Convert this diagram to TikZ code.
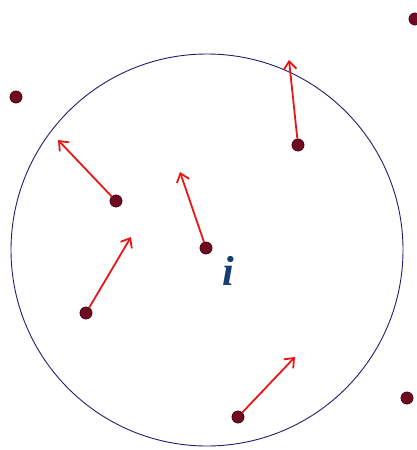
\documentclass[tikz,border=0pt]{standalone}
\usepackage{fontspec}
\usepackage{tikz}
\usetikzlibrary{arrows.meta}
\newfontfamily\labelfont{Liberation Serif}
\definecolor{dotred}{RGB}{112, 10, 32}
\definecolor{dotrim}{RGB}{70, 0, 20}
\definecolor{velred}{RGB}{232, 22, 22}
\definecolor{rimblue}{RGB}{32, 30, 110}
\definecolor{labblue}{RGB}{22, 62, 112}

\begin{document}
\begin{tikzpicture}[x=1pt, y=-1pt,
		particle/.style={circle, draw=dotrim, line width=0.8pt, fill=dotred, minimum size=12pt, inner sep=0pt},
		velocity/.style={velred, line width=1.8pt, -{Straight Barb[length=8pt, width=13pt, line width=1.8pt]}}]
		
		\useasboundingbox (0,0) rectangle (416,450);
		
		% Nachbarschaftskreis um i
		\draw[rimblue, line width=0.9pt] (207,250) circle (196);
		
		% Teilchen
		\node[particle] (p1) at (16, 97) {};
		\node[particle] (p2) at (415, 19) {};
		\node[particle] (p3) at (298, 145) {};
		\node[particle] (p4) at (116, 201) {};
		\node[particle] (pi) at (206, 248) {};
		\node[particle] (p5) at (86, 313) {};
		\node[particle] (p6) at (238, 417) {};
		\node[particle] (p7) at (407, 398) {};
		
		% Geschwindigkeiten
		\coordinate (v3) at (289, 60);
		\coordinate (v4) at (58, 140);
		\coordinate (vi) at (180, 172);
		\coordinate (v5) at (131, 237);
		\coordinate (v6) at (295, 357);
		\draw[velocity] (p3) -- (v3);
		\draw[velocity] (p4) -- (v4);
		\draw[velocity] (pi) -- (vi);
		\draw[velocity] (p5) -- (v5);
		\draw[velocity] (p6) -- (v6);
		
		% Bezeichnung
		\node[text=labblue, font=\labelfont\fontsize{42}{42}\selectfont\bfseries\itshape] (lab) at (228, 271) {i};
		
	\end{tikzpicture}
\end{document}
